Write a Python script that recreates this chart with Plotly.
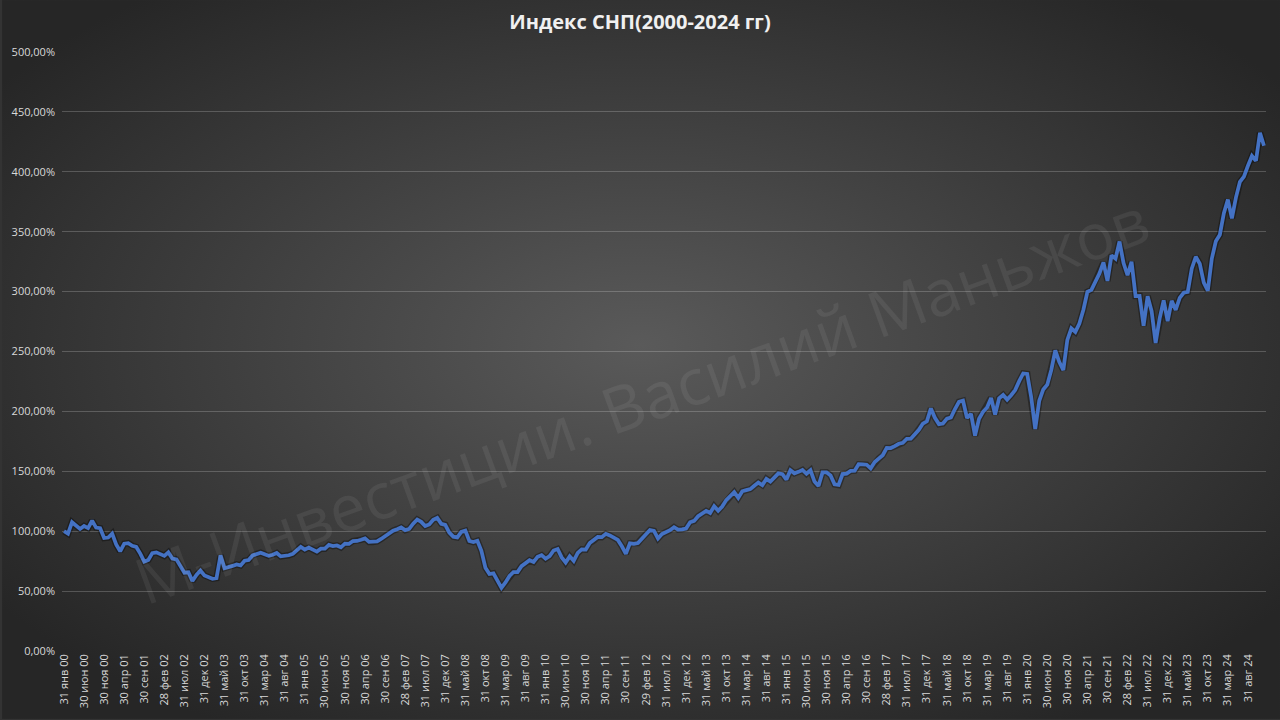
import calendar
import base64
import plotly.graph_objects as go

# Monthly S&P 500 closing levels, Jan 2000 - Dec 2024 (normalised to Jan 2000)
levels_2000 = [1394.46, 1366.42, 1498.58, 1452.43, 1420.60, 1454.60, 1430.83, 1517.68, 1436.51, 1429.40, 1314.95, 1320.28]
levels_2001 = [1366.01, 1239.94, 1160.33, 1249.46, 1255.82, 1224.42, 1211.23, 1133.58, 1040.94, 1059.78, 1139.45, 1148.08]
levels_2002 = [1130.20, 1106.73, 1147.39, 1076.92, 1067.14, 989.82, 911.62, 916.07, 815.28, 885.76, 936.31, 879.82]
levels_2003 = [855.70, 841.15, 848.18, 1115.00, 963.59, 974.50, 990.31, 1008.01, 995.97, 1050.71, 1058.20, 1111.92]
levels_2004 = [1131.13, 1144.94, 1126.21, 1107.30, 1120.68, 1140.84, 1101.72, 1104.24, 1114.58, 1130.20, 1173.82, 1211.92]
levels_2005 = [1181.27, 1203.60, 1180.59, 1156.85, 1191.50, 1191.33, 1234.18, 1220.33, 1228.81, 1207.01, 1249.48, 1248.29]
levels_2006 = [1280.08, 1280.66, 1294.83, 1310.61, 1270.09, 1270.20, 1276.66, 1303.82, 1335.85, 1377.94, 1400.63, 1418.30]
levels_2007 = [1438.24, 1406.82, 1420.86, 1482.37, 1530.62, 1503.35, 1455.27, 1473.99, 1526.75, 1549.38, 1481.14, 1468.36]
levels_2008 = [1378.55, 1330.63, 1322.70, 1385.59, 1400.38, 1280.00, 1267.38, 1282.83, 1166.36, 968.75, 896.24, 903.25]
levels_2009 = [825.88, 735.09, 797.87, 872.81, 919.14, 919.32, 987.48, 1020.62, 1057.08, 1036.19, 1095.63, 1115.10]
levels_2010 = [1073.87, 1104.49, 1169.43, 1186.69, 1089.41, 1030.71, 1101.60, 1049.33, 1141.20, 1183.26, 1180.55, 1257.64]
levels_2011 = [1286.12, 1327.22, 1325.83, 1363.61, 1345.20, 1320.64, 1292.28, 1218.89, 1131.42, 1253.30, 1246.96, 1257.60]
levels_2012 = [1312.41, 1365.68, 1408.47, 1397.91, 1310.33, 1362.16, 1379.32, 1406.58, 1440.67, 1412.16, 1416.18, 1426.19]
levels_2013 = [1498.11, 1514.68, 1569.19, 1597.57, 1630.74, 1606.28, 1685.73, 1632.97, 1681.55, 1756.54, 1805.81, 1848.36]
levels_2014 = [1782.59, 1859.45, 1872.34, 1883.95, 1923.57, 1960.23, 1930.67, 2003.37, 1972.29, 2018.05, 2067.56, 2058.90]
levels_2015 = [1994.99, 2104.50, 2067.89, 2085.51, 2107.39, 2063.11, 2103.84, 1972.18, 1920.03, 2079.36, 2080.41, 2043.94]
levels_2016 = [1940.24, 1932.23, 2059.74, 2065.30, 2096.95, 2098.86, 2173.60, 2170.95, 2168.27, 2126.15, 2198.81, 2238.83]
levels_2017 = [2278.87, 2363.64, 2362.72, 2384.20, 2411.80, 2423.41, 2470.30, 2471.65, 2519.36, 2575.26, 2647.58, 2673.61]
levels_2018 = [2823.81, 2713.83, 2640.87, 2648.05, 2705.27, 2718.37, 2816.29, 2901.52, 2913.98, 2711.74, 2760.17, 2506.85]
levels_2019 = [2704.10, 2784.49, 2834.40, 2945.83, 2752.06, 2941.76, 2980.38, 2926.46, 2976.74, 3037.56, 3140.98, 3230.78]
levels_2020 = [3225.52, 2954.22, 2584.59, 2912.43, 3044.31, 3100.29, 3271.12, 3500.31, 3363.00, 3269.96, 3621.63, 3756.07]
levels_2021 = [3714.24, 3811.15, 3972.89, 4181.17, 4204.11, 4297.50, 4395.26, 4522.68, 4307.54, 4605.38, 4567.00, 4766.18]
levels_2022 = [4515.55, 4373.94, 4530.41, 4131.93, 4132.15, 3785.38, 4130.29, 3955.00, 3585.62, 3871.98, 4080.11, 3839.50]
levels_2023 = [4076.60, 3970.15, 4109.31, 4169.48, 4179.83, 4450.38, 4588.96, 4507.66, 4288.05, 4193.80, 4567.80, 4769.83]
levels_2024 = [4845.65, 5096.27, 5254.35, 5035.69, 5277.51, 5460.48, 5522.30, 5648.40, 5762.48, 5705.45, 6032.38, 5881.63]

years = list(range(2000, 2025))
month_abbr = ["янв", "фев", "мар", "апр", "май", "июн", "июл", "авг", "сен", "окт", "ноя", "дек"]

all_levels = []
for y in years:
    all_levels += globals()[f"levels_{y}"]
base = all_levels[0]
index_values = [v / base for v in all_levels]

categories = []
for y in years:
    for m in range(1, 13):
        d = calendar.monthrange(y, m)[1]
        categories.append(f"{d} {month_abbr[m-1]} {y % 100:02d}")

tick_vals = categories[::5]

# background radial gradient
svg = ('<svg xmlns="http://www.w3.org/2000/svg" width="1280" height="720">'
       '<defs><radialGradient id="g" cx="50%" cy="48%" r="62%" gradientUnits="objectBoundingBox">'
       '<stop offset="0%" stop-color="#5a5a5a"/><stop offset="100%" stop-color="#262626"/>'
       '</radialGradient></defs><rect width="1280" height="720" fill="url(#g)"/></svg>')
bg_src = "data:image/svg+xml;base64," + base64.b64encode(svg.encode()).decode()

L, R, T, B = 60, 14, 52, 68
W, H = 1280, 720
pw, ph = W - L - R, H - T - B

fig = go.Figure()
fig.add_trace(go.Scatter(
    x=categories, y=index_values, mode="lines",
    line=dict(color="rgba(0,0,0,0.35)", width=6.5), hoverinfo="skip", showlegend=False))
fig.add_trace(go.Scatter(
    x=categories, y=index_values, mode="lines",
    line=dict(color="#4472C4", width=3.75), showlegend=False))

fig.add_layout_image(dict(
    source=bg_src, xref="paper", yref="paper",
    x=-L / pw, y=1 + T / ph, sizex=W / pw, sizey=H / ph,
    xanchor="left", yanchor="top", sizing="stretch", layer="below"))

fig.add_annotation(
    text="М-Инвестиции. Василий Маньжов", xref="paper", yref="paper",
    x=(640 - L) / pw, y=1 - (400 - T) / ph, showarrow=False, textangle=-20,
    font=dict(family="Open Sans", size=64, color="rgba(255,255,255,0.065)"))

fig.update_layout(
    width=W, height=H,
    margin=dict(l=L, r=R, t=T, b=B),
    paper_bgcolor="#333333", plot_bgcolor="rgba(0,0,0,0)",
    separators=", ",
    title=dict(text="<b>Индекс СНП(2000-2024 гг)</b>", x=0.5, xref="container",
               y=1 - 22 / H, yanchor="middle", xanchor="center",
               font=dict(family="Open Sans", size=20, color="#f0f0f0")),
    xaxis=dict(type="category", range=[-0.5, len(categories) - 0.5],
               tickmode="array", tickvals=tick_vals, ticktext=tick_vals,
               tickangle=-90, showgrid=False, zeroline=False,
               showline=False, ticks="",
               tickfont=dict(family="Open Sans", size=11, color="#d9d9d9")),
    yaxis=dict(range=[0, 5], dtick=0.5, tickformat=".2%",
               gridcolor="rgba(255,255,255,0.2)", gridwidth=1,
               zeroline=False, showline=False, ticks="", ticklabelstandoff=6,
               tickfont=dict(family="Open Sans", size=11, color="#d9d9d9")),
)

fig.write_html("out.html", config={"displayModeBar": False},
               post_script="document.body.style.margin='0';document.body.style.overflow='hidden';")
